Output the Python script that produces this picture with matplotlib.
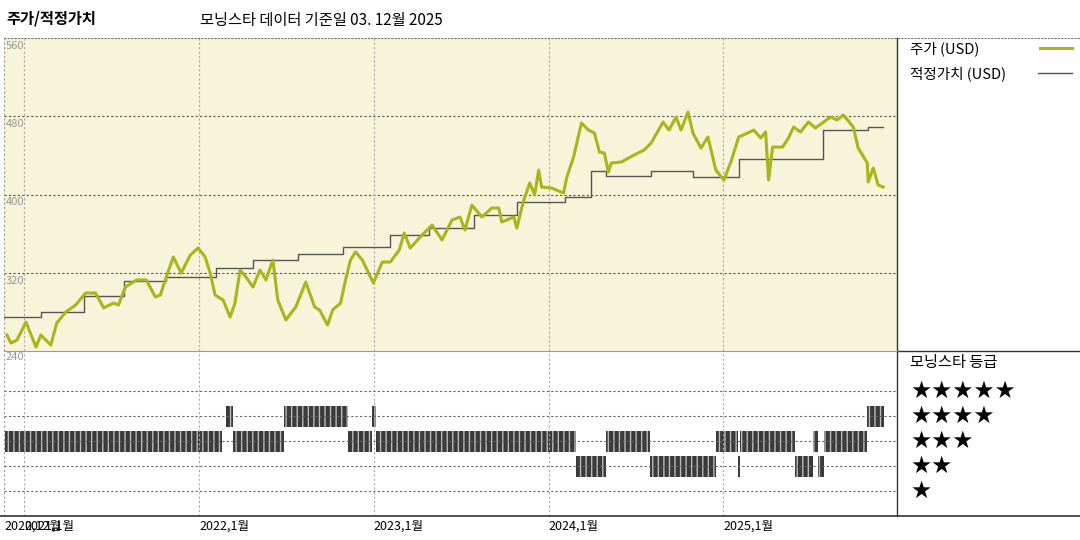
import matplotlib.pyplot as plt
import numpy as np

plt.rcParams['font.family'] = ['Noto Sans CJK KR', 'DejaVu Sans']

# price (decimal year, USD)
price_t = [2020.900, 2020.923, 2020.957, 2021.009, 2021.066, 2021.094, 2021.151, 2021.185, 2021.236, 2021.293,
           2021.350, 2021.407, 2021.453, 2021.510, 2021.538, 2021.578, 2021.641, 2021.698, 2021.749, 2021.778,
           2021.812, 2021.852, 2021.897, 2021.949, 2021.994, 2022.034, 2022.063, 2022.091, 2022.137, 2022.177,
           2022.205, 2022.234, 2022.268, 2022.308, 2022.348, 2022.382, 2022.422, 2022.450, 2022.496, 2022.553,
           2022.610, 2022.661, 2022.689, 2022.735, 2022.764, 2022.809, 2022.838, 2022.866, 2022.895, 2022.934,
           2022.997, 2023.048, 2023.094, 2023.145, 2023.174, 2023.208, 2023.276, 2023.333, 2023.390, 2023.447,
           2023.493, 2023.521, 2023.561, 2023.618, 2023.675, 2023.715, 2023.732, 2023.801, 2023.818, 2023.858,
           2023.892, 2023.920, 2023.943, 2023.960, 2024.017, 2024.086, 2024.103, 2024.143, 2024.188, 2024.228,
           2024.262, 2024.291, 2024.319, 2024.342, 2024.359, 2024.416, 2024.490, 2024.547, 2024.587, 2024.655,
           2024.689, 2024.729, 2024.758, 2024.798, 2024.826, 2024.872, 2024.912, 2024.957, 2025.003, 2025.043,
           2025.088, 2025.140, 2025.174, 2025.214, 2025.242, 2025.259, 2025.282, 2025.339, 2025.373, 2025.402,
           2025.442, 2025.487, 2025.527, 2025.567, 2025.613, 2025.652, 2025.687, 2025.744, 2025.772, 2025.824,
           2025.829, 2025.858, 2025.886, 2025.915]
price_v = [256.3, 248.1, 251.2, 269.6, 244.0, 256.3, 246.1, 268.6, 279.8, 287.0,
           299.3, 299.3, 284.1, 289.0, 287.0, 305.4, 312.6, 312.6, 295.2, 297.2,
           315.6, 336.1, 319.7, 338.1, 345.3, 336.1, 319.7, 297.2, 292.1, 274.7,
           289.0, 322.8, 315.6, 305.4, 322.8, 312.6, 333.0, 292.1, 271.7, 285.0,
           310.5, 285.0, 281.9, 266.5, 281.9, 289.0, 312.6, 333.0, 341.2, 333.0,
           309.5, 331.0, 331.0, 343.2, 360.6, 345.3, 358.6, 368.8, 353.5, 373.9,
           377.0, 363.7, 389.2, 377.0, 386.2, 386.2, 371.9, 377.0, 365.7, 394.4,
           411.7, 399.5, 425.0, 407.6, 406.6, 401.5, 416.9, 438.3, 473.1, 465.9,
           462.9, 443.4, 442.4, 423.0, 432.2, 433.2, 440.4, 445.5, 452.6, 474.1,
           465.9, 479.2, 465.9, 484.3, 462.9, 447.5, 458.8, 425.0, 414.8, 433.2,
           458.8, 462.9, 465.9, 457.8, 463.9, 414.8, 448.5, 448.5, 457.8, 469.0,
           463.9, 474.1, 468.0, 473.1, 479.2, 476.2, 481.3, 469.0, 447.5, 432.2,
           412.8, 427.1, 409.7, 407.6]

# fair value steps (start year, USD)
fv_t = [2020.880, 2021.094, 2021.339, 2021.567, 2021.812, 2022.097, 2022.308, 2022.564, 2022.821, 2023.094,
        2023.316, 2023.573, 2023.818, 2024.091, 2024.245, 2024.330, 2024.587, 2024.826, 2025.088, 2025.573,
        2025.829, 2025.915]
fv_v = [274.7, 279.8, 296.2, 311.5, 315.6, 324.8, 333.0, 339.1, 346.3, 358.6,
        365.7, 379.0, 392.3, 397.4, 424.0, 418.9, 424.0, 417.9, 436.3, 466.0,
        469.0, 469.0]

# star rating periods
rating_start = [2020.889, 2022.154, 2022.194, 2022.484, 2022.849, 2022.992, 2023.014, 2024.154, 2024.330,
                2024.581, 2024.957, 2025.083, 2025.094, 2025.413, 2025.516, 2025.544, 2025.578, 2025.823]
rating_end = [2022.131, 2022.194, 2022.484, 2022.849, 2022.992, 2023.014, 2024.154, 2024.330, 2024.581,
              2024.957, 2025.083, 2025.094, 2025.413, 2025.516, 2025.544, 2025.578, 2025.823, 2025.920]
rating_star = [3, 4, 3, 4, 3, 4, 3, 2, 3, 2, 3, 2, 3, 2, 3, 2, 3, 4]

year_ticks = [2021, 2022, 2023, 2024, 2025]
x_labels = ['2020,12월', '2021,1월', '2022,1월', '2023,1월', '2024,1월', '2025,1월']
x_label_pos = [2020.885, 2021.0, 2022.0, 2023.0, 2024.0, 2025.0]
price_labels = [560, 480, 400, 320]

olive = '#a9b51c'
xmin, xmax = 2020.883, 2025.994

fig = plt.figure(figsize=(10.8, 5.4), dpi=100)
ax = fig.add_axes([4 / 1080, 1 - 351 / 540, 893 / 1080, 313 / 540])
ax2 = fig.add_axes([4 / 1080, 1 - 516 / 540, 893 / 1080, 165 / 540])

ax.set_facecolor('#f8f4d9')
ax.set_xlim(xmin, xmax)
ax.set_ylim(240, 560)
for y in [320, 400, 480]:
    ax.axhline(y, color='#555555', ls=(0, (2, 2)), lw=0.8)
for y in year_ticks:
    ax.axvline(y, color='#aaaaaa', ls=(0, (2, 2)), lw=0.8)
    ax2.axvline(y, color='#aaaaaa', ls=(0, (2, 2)), lw=0.8)
ax.step(fv_t, fv_v, where='post', color='#555555', lw=1.0)
ax.plot(price_t, price_v, color=olive, lw=2.2)
for v in price_labels:
    ax.text(xmin + 0.01, v - 3, str(v), color='#999999', fontsize=8, va='top', ha='left')

ax2.set_xlim(xmin, xmax)
ax2.set_ylim(0, 6.6)
for r in [1, 2, 3, 4, 5]:
    ax2.axhline(r, color='#666666', ls=(0, (2, 2)), lw=0.8)
for s, e, r in zip(rating_start, rating_end, rating_star):
    ax2.broken_barh([(s, e - s)], (r - 0.42, 0.84), facecolor='#3a3a3a',
                    edgecolor='#bbbbbb', hatch='|||', lw=0)
ax2.text(xmin + 0.01, 6.55, '240', color='#999999', fontsize=8, va='top', ha='left')

for a in (ax, ax2):
    a.set_xticks([])
    a.set_yticks([])
    for sp in a.spines.values():
        sp.set_visible(False)
    a.axvline(xmin, color='#999999', ls=(0, (2, 2)), lw=0.8)

for xl, lab in zip(x_label_pos, x_labels):
    ax2.text(xl, -0.15, lab, fontsize=9, va='top', ha='left')

# frame lines
fig.add_artist(plt.Line2D([4 / 1080, 1], [1 - 38 / 540] * 2, color='#777777', lw=0.8, ls=(0, (2, 1))))
fig.add_artist(plt.Line2D([0, 1], [1 - 516 / 540] * 2, color='#333333', lw=1.2))
fig.add_artist(plt.Line2D([897 / 1080] * 2, [1 - 516 / 540, 1 - 38 / 540], color='#333333', lw=1.0))
fig.add_artist(plt.Line2D([897 / 1080, 1], [1 - 351 / 540] * 2, color='#333333', lw=1.0))
fig.add_artist(plt.Line2D([4 / 1080, 897 / 1080], [1 - 351 / 540] * 2, color='#999999', lw=0.8))

# titles and legend
fig.text(6 / 1080, 1 - 18 / 540, '주가/적정가치', fontsize=11, fontweight='bold', va='center')
fig.text(200 / 1080, 1 - 20 / 540, '모닝스타 데이터 기준일 03. 12월 2025', fontsize=11, va='center')
fig.text(910 / 1080, 1 - 49 / 540, '주가 (USD)', fontsize=10.5, va='center')
fig.add_artist(plt.Line2D([1040 / 1080, 1072 / 1080], [1 - 48 / 540] * 2, color=olive, lw=2.2))
fig.text(910 / 1080, 1 - 74 / 540, '적정가치 (USD)', fontsize=10.5, va='center')
fig.add_artist(plt.Line2D([1038 / 1080, 1072 / 1080], [1 - 73 / 540] * 2, color='#555555', lw=1.0))
fig.text(910 / 1080, 1 - 363 / 540, '모닝스타 등급', fontsize=11, va='center')
for i, n in enumerate([5, 4, 3, 2, 1]):
    fig.text(910 / 1080, 1 - (391 + 25 * i) / 540, '★' * n, fontsize=17,
             family='DejaVu Sans', va='center')

fig.savefig('out.png', dpi=100)
